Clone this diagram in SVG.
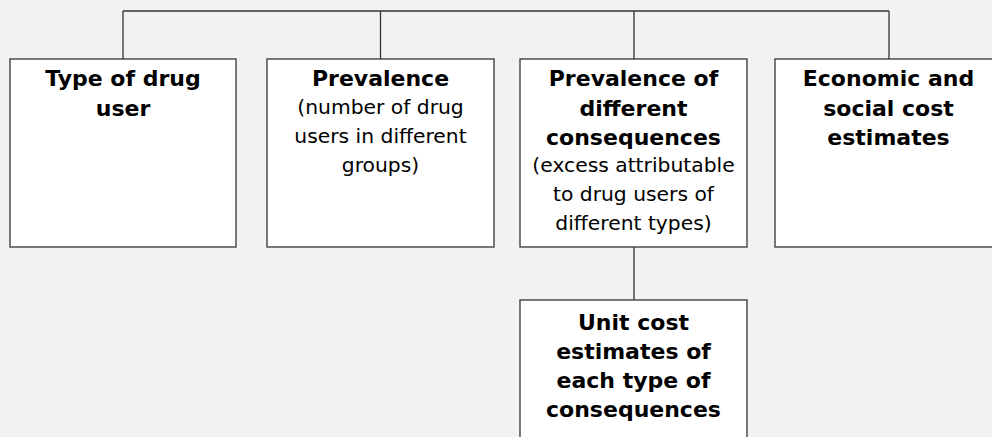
<svg xmlns="http://www.w3.org/2000/svg" width="992" height="437" viewBox="0 0 992 437">
<style>
.box{fill:#fff;stroke:#333;stroke-width:1.3}
.ln{stroke:#333;stroke-width:1.3;fill:none}
text{font-family:"DejaVu Sans",sans-serif;font-size:20.3px;fill:#000;text-anchor:middle}
.b{font-weight:bold;font-size:22px}
</style>
<rect width="992" height="437" fill="#f2f2f2"/>
<g id="connectors">
<path class="ln" d="M123,11H889M123,11V59M380.5,11V59M634,11V59M889,11V59M634,247V300"/>
</g>
<g id="n1"><rect class="box" x="10" y="59" width="226" height="188"/>
<text class="b" x="123" y="86">Type of drug</text><text class="b" x="123" y="116">user</text></g>
<g id="n2"><rect class="box" x="267" y="59" width="227" height="188"/>
<text class="b" x="380.5" y="86">Prevalence</text><text x="380.5" y="114">(number of drug</text><text x="380.5" y="143">users in different</text><text x="380.5" y="172">groups)</text></g>
<g id="n3"><rect class="box" x="520" y="59" width="227" height="188"/>
<text class="b" x="633.5" y="86">Prevalence of</text><text class="b" x="633.5" y="116">different</text><text class="b" x="633.5" y="145">consequences</text><text x="633.5" y="172">(excess attributable</text><text x="633.5" y="201">to drug users of</text><text x="633.5" y="230">different types)</text></g>
<g id="n4"><rect class="box" x="775" y="59" width="227" height="188"/>
<text class="b" x="888.5" y="86">Economic and</text><text class="b" x="888.5" y="116">social cost</text><text class="b" x="888.5" y="145">estimates</text></g>
<g id="n5"><rect class="box" x="520" y="300" width="227" height="160"/>
<text class="b" x="633.5" y="330">Unit cost</text><text class="b" x="633.5" y="359">estimates of</text><text class="b" x="633.5" y="388">each type of</text><text class="b" x="633.5" y="417">consequences</text></g>
</svg>
